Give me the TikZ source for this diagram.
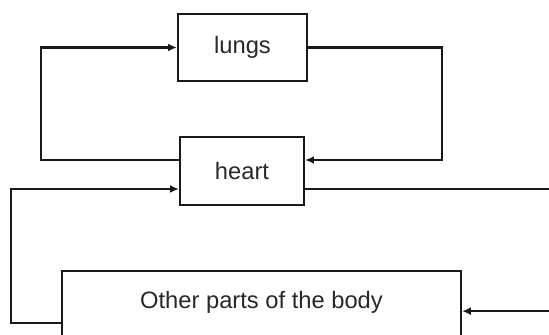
\documentclass[tikz,border=0pt]{standalone}
\usepackage{fontspec}
\setmainfont{Liberation Sans}
\usetikzlibrary{arrows.meta,positioning}
\definecolor{inkline}{RGB}{25,25,25}
\definecolor{inktext}{RGB}{40,40,40}

\begin{document}
\begin{tikzpicture}[x=0.02cm,y=-0.02cm,font=\fontsize{13.5}{16}\selectfont,
box/.style={draw=inkline,line width=1.3pt,inner sep=0pt,text=inktext},
arr/.style={-{Latex[length=5pt,width=4.5pt]},line width=1.3pt,draw=inkline}]

\clip(0,0)rectangle(549,335);
\node[box,minimum width=2.58cm,minimum height=1.34cm](lungs)at(242.5,47.5){lungs};
\node[box,minimum width=2.48cm,minimum height=1.36cm](heart)at(242,171){heart};
\node[box,minimum width=7.98cm,text height=0.74cm,text depth=0.86cm,anchor=north](body)at(261.5,270){Other parts of the body};
% lungs circuit
\draw[arr]([yshift=0.22cm]heart.west)--++(-138,0)|-(lungs.west);
\draw[arr](lungs.east)--++(134,0)|-([yshift=0.22cm]heart.east);
% body circuit
\draw[arr]([yshift=-0.24cm]body.west)--++(-50,0)|-([yshift=-0.36cm]heart.west);
\coordinate(edge)at(565,250);
\draw[arr]([yshift=-0.36cm]heart.east)-|(edge)|-(body.east);
\end{tikzpicture}
\end{document}
